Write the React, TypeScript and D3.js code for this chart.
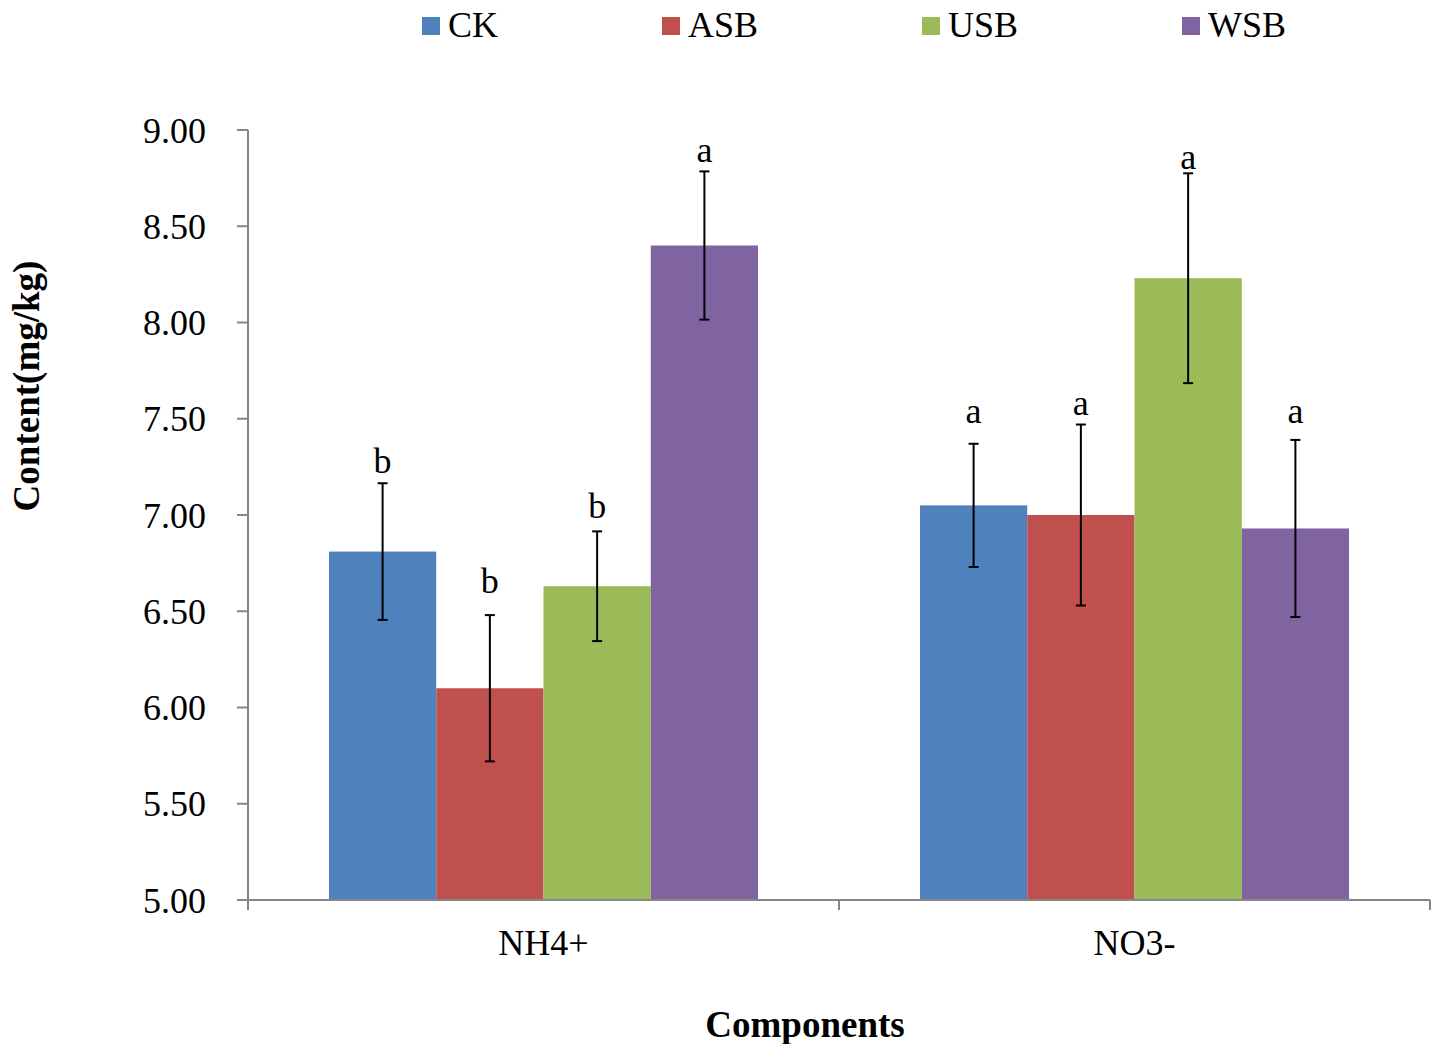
import React from 'react';
import * as d3 from 'd3';

const categories = ['NH4+', 'NO3-'];
const seriesNames = ['CK', 'ASB', 'USB', 'WSB'];
const seriesColors = ['#4F81BD', '#C0504D', '#9BBB59', '#8064A2'];
// values per series, in category order
const means = [
  [6.81, 7.05],
  [6.10, 7.00],
  [6.63, 8.23],
  [8.40, 6.93],
];
const errors = [
  [0.355, 0.32],
  [0.38, 0.47],
  [0.285, 0.545],
  [0.385, 0.46],
];
const letters = [
  ['b', 'a'],
  ['b', 'a'],
  ['b', 'a'],
  ['a', 'a'],
];
// height (in mg/kg) of each letter's baseline
const letterLevels = [
  [7.22, 7.48],
  [6.595, 7.52],
  [6.985, 8.80],
  [8.835, 7.48],
];
const yTicks = [5, 5.5, 6, 6.5, 7, 7.5, 8, 8.5, 9];

const W = 1438;
const H = 1044;
const left = 248;
const right = 1430;
const top = 130;
const bottom = 900;
const font = '"Liberation Serif", "Times New Roman", serif';
const axisColor = '#868686';
const legendX = [422, 662, 922, 1182];

export default function App() {
  const y = d3.scaleLinear().domain([5, 9]).range([bottom, top]);
  const x0 = d3.scaleBand<string>().domain(categories).range([left, right]);
  const bw = x0.bandwidth();
  const pad = bw * 0.137;
  const x1 = d3.scaleBand<string>().domain(seriesNames).range([pad, bw - pad]);
  const barW = x1.bandwidth();

  return (
    <svg width={W} height={H} style={{ position: 'absolute', left: 0, top: 0, background: '#fff' }}
      fontFamily={font}>
      {/* legend */}
      {seriesNames.map((s, i) => (
        <g key={s} transform={`translate(${legendX[i]},17)`}>
          <rect width={18} height={18} fill={seriesColors[i]} />
          <text x={26} y={20} fontSize={36} fill="#000">{s}</text>
        </g>
      ))}

      {/* y axis */}
      <line x1={left} x2={left} y1={top} y2={bottom} stroke={axisColor} strokeWidth={2} />
      {yTicks.map(t => (
        <g key={t}>
          <line x1={left - 11} x2={left} y1={y(t)} y2={y(t)} stroke={axisColor} strokeWidth={2} />
          <text x={206} y={y(t)} dy="0.35em" textAnchor="end" fontSize={36} fill="#000">
            {d3.format('.2f')(t)}
          </text>
        </g>
      ))}

      {/* bars */}
      {categories.map((c, ci) => (
        <g key={c} transform={`translate(${x0(c)},0)`}>
          {seriesNames.map((s, si) => {
            const v = means[si][ci];
            const e = errors[si][ci];
            const cx = (x1(s) as number) + barW / 2;
            return (
              <g key={s}>
                <rect x={x1(s)} y={y(v)} width={barW} height={y(5) - y(v)} fill={seriesColors[si]} />
                <line x1={cx} x2={cx} y1={y(v + e)} y2={y(v - e)} stroke="#000" strokeWidth={2} />
                <line x1={cx - 5} x2={cx + 5} y1={y(v + e)} y2={y(v + e)} stroke="#000" strokeWidth={2} />
                <line x1={cx - 5} x2={cx + 5} y1={y(v - e)} y2={y(v - e)} stroke="#000" strokeWidth={2} />
                <text x={cx} y={y(letterLevels[si][ci])} textAnchor="middle" fontSize={36} fill="#000">
                  {letters[si][ci]}
                </text>
              </g>
            );
          })}
        </g>
      ))}

      {/* x axis */}
      <line x1={left} x2={right} y1={bottom} y2={bottom} stroke={axisColor} strokeWidth={2} />
      {[left, ...categories.map(c => (x0(c) as number) + bw)].map((tx, i) => (
        <line key={i} x1={tx} x2={tx} y1={bottom} y2={bottom + 10} stroke={axisColor} strokeWidth={2} />
      ))}
      {categories.map(c => (
        <text key={c} x={(x0(c) as number) + bw / 2} y={955} textAnchor="middle" fontSize={36} fill="#000">
          {c}
        </text>
      ))}

      {/* axis titles */}
      <text x={805} y={1037} textAnchor="middle" fontSize={37} fontWeight="bold" fill="#000">Components</text>
      <text transform="translate(39,386) rotate(-90)" textAnchor="middle" fontSize={37} fontWeight="bold" fill="#000">
        Content(mg/kg)
      </text>
    </svg>
  );
}
